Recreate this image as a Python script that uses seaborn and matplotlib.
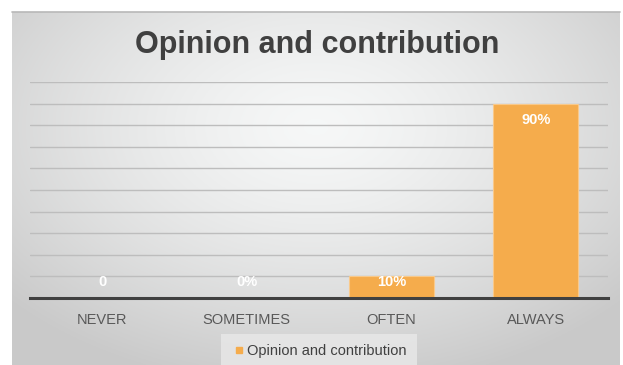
import numpy as np
import pandas as pd
import matplotlib
matplotlib.use("Agg")
import matplotlib.pyplot as plt
import seaborn as sns
from matplotlib.lines import Line2D

categories = ["NEVER", "SOMETIMES", "OFTEN", "ALWAYS"]
values = [0, 0, 10, 90]
value_labels = ["0", "0%", "10%", "90%"]
series_name = "Opinion and contribution"
title = "Opinion and contribution"

sns.set_theme(style="white")
plt.rcParams['font.family'] = ['Liberation Sans', 'DejaVu Sans']

W, H = 623, 365
fig = plt.figure(figsize=(W / 100, H / 100), dpi=100)
fig.patch.set_facecolor("white")

# gradient background of the chart area
bx0, bx1, by1 = 12, 620, 12
bg = fig.add_axes([bx0 / W, 0, (bx1 - bx0) / W, 1 - by1 / H])
gx = np.linspace(-1, 1, 400)
gy = np.linspace(-1, 1, 240)
X, Y = np.meshgrid(gx, gy)
R = np.sqrt((X * 1.0) ** 2 + ((Y + 0.35) * 0.9) ** 2)
R = np.clip(R / 1.35, 0, 1)
light = np.array([0.965, 0.97, 0.97])
dark = np.array([0.79, 0.79, 0.79])
img = light[None, None, :] + (dark - light)[None, None, :] * (R[..., None] ** 1.4)
bg.imshow(img, aspect="auto", extent=[0, 1, 0, 1], origin="upper")
bg.plot([0, 1], [1, 1], color="#b8b8b8", lw=1.2, transform=bg.transAxes, clip_on=False)
bg.set_axis_off()

# main axes
left, right = 30, 608
bottom, top = 298, 82
ax = fig.add_axes([left / W, (H - bottom) / H, (right - left) / W, (bottom - top) / H])
ax.patch.set_alpha(0)

df = pd.DataFrame({"category": categories, "value": values})
sns.barplot(data=df, x="category", y="value", ax=ax, color="#f5ac4c",
            saturation=1, width=0.59, edgecolor="#f9c98a", linewidth=0.8, zorder=3)

ax.set_ylim(0, 100)
ax.set_xlim(-0.5, len(categories) - 0.5)
ax.set_yticks(np.arange(10, 101, 10))
ax.yaxis.grid(True, color="#bdbdbd", linewidth=1.0, zorder=0)
ax.set_axisbelow(True)
ax.tick_params(axis="y", left=False, labelleft=False)
ax.tick_params(axis="x", bottom=False, labelsize=10.5, labelcolor="#595959", pad=5)
ax.set_xlabel("")
ax.set_ylabel("")
for s in ["left", "right", "top"]:
    ax.spines[s].set_visible(False)
ax.spines["bottom"].set_color("#404040")
ax.spines["bottom"].set_linewidth(2.2)
ax.spines["bottom"].set_zorder(4)

for i, (v, lab) in enumerate(zip(values, value_labels)):
    ax.text(i, max(v - 7.5, 7.5), lab, ha="center", va="center", color="white",
            fontsize=10.5, fontweight="bold", zorder=5)

fig.text(317 / W, 1 - 45 / H, title, ha="center", va="center", fontsize=22,
         fontweight="bold", color="#404040")

handle = Line2D([], [], marker="s", linestyle="none", markersize=5,
                markerfacecolor="#f5ac4c", markeredgecolor="#f5ac4c")
leg = fig.legend([handle], [series_name], loc="center",
                 bbox_to_anchor=(319 / W, 1 - 351.5 / H), frameon=True,
                 fontsize=10.5, handletextpad=0.05, borderpad=0.75, fancybox=False,
                 handlelength=1.0, borderaxespad=0)
leg.get_frame().set_facecolor("#e6e6e6")
leg.get_frame().set_edgecolor("none")
leg.get_frame().set_alpha(0.9)
for t in leg.get_texts():
    t.set_color("#404040")

fig.savefig("out.png", dpi=100)
